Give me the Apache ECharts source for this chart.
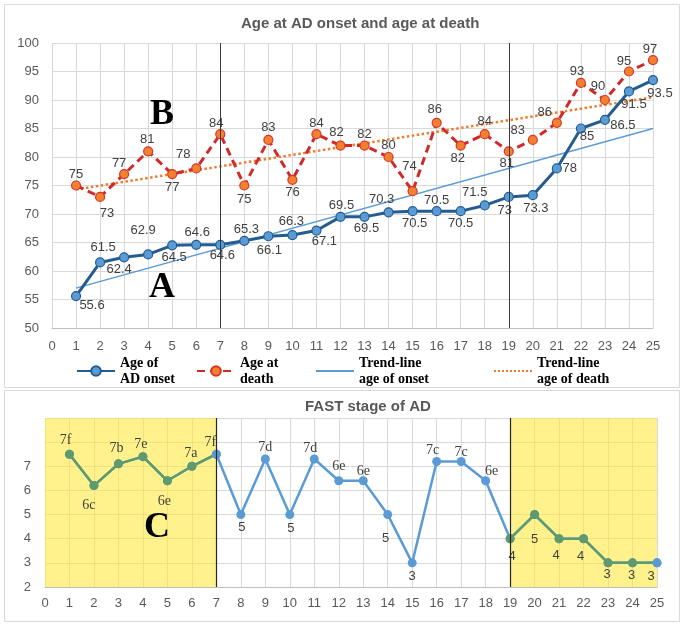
<!DOCTYPE html>
<html><head><meta charset="utf-8">
<script src="https://cdn.jsdelivr.net/npm/echarts@6/dist/echarts.min.js"></script>
<style>html,body{margin:0;padding:0;background:#fff}#c{width:684px;height:626px}</style>
</head><body><div id="c"></div>
<script>
// ---- data ----
const patients = [1,2,3,4,5,6,7,8,9,10,11,12,13,14,15,16,17,18,19,20,21,22,23,24,25];
const onsetAge = [55.6,61.5,62.4,62.9,64.5,64.6,64.6,65.3,66.1,66.3,67.1,69.5,69.5,70.3,70.5,70.5,70.5,71.5,73,73.3,78,85,86.5,91.5,93.5];
const deathAge = [75,73,77,81,77,78,84,75,83,76,84,82,82,80,74,86,82,84,81,83,86,93,90,95,97];
const trendX = [1,25];
const trendOnset = [57.0,85.0];
const trendDeath = [74.3,90.5];
const fastValue = [7.5,6.2,7.1,7.4,6.4,7.0,7.5,5,7.3,5,7.3,6.4,6.4,5,3,7.2,7.2,6.4,4,5,4,4,3,3,3];
const fastStage = ['7f','6c','7b','7e','6e','7a','7f','5','7d','5','7d','6e','6e','5','3','7c','7c','6e','4','5','4','4','3','3','3'];
const dividerPatients = [7,19];
const earlyRange = [0,7];
const lateRange = [19,25];
const seriesNames = ['Age of\nAD onset','Age at\ndeath','Trend-line\nage of onset','Trend-line\nage of death'];

// ---- label offsets (style) ----
const onsetOff = [[16,9],[3,-15],[-5,12],[-5,-24],[2,12],[1,-12],[2,11],[2,-11],[1,14],[-1,-14],[8,11],[1,-11],[2,12],[-7,-13],[2,12],[0,-11],[0,12],[-10,-13],[-4,14],[3,13],[13,0],[6,8],[18,5],[5,13],[7,13]];
const deathOff = [[0,-11],[7,17],[-5,-11],[-1,-12],[0,13],[-13,-14],[-4,-11],[0,14],[0,-12],[0,13],[0,-11],[-4,-13],[0,-11],[0,-12],[-3,-25],[-2,-13],[-3,13],[0,-13],[-2,12],[-15,-9],[-12,-10],[-4,-11],[-7,-14],[-5,-10],[-3,-11]];
const fastOff = [[-4,-14],[-5,20],[-2,-16],[-2,-12],[-3,21],[-1,-13],[-6,-12],[1,13],[0,-12],[1,14],[-4,-11],[0,-14],[0,-9],[-2,24],[0,14],[-4,-11],[0,-9],[6,-9],[2,18],[0,25],[-3,17],[-3,18],[-1,12],[-1,13],[-6,14]];

const axisLab = {color:'#595959', fontSize:13, fontFamily:'Liberation Sans'};
const gridLine = {show:true, lineStyle:{color:'#D9D9D9', width:1}};
const ptLabel = {show:true, position:'inside', color:'#404040', fontSize:13, fontFamily:'Liberation Sans'};

const chart = echarts.init(document.getElementById('c'));

function legendAt(left, name, noSymbol){
  const lg = {
    left: left, top: 355, itemWidth: 38, itemHeight: 12, padding: 0,
    data: [name], selectedMode: false,
    textStyle: {fontFamily:'Liberation Serif', fontWeight:'bold', fontSize:14, color:'#000', lineHeight:16}
  };
  if (noSymbol) lg.itemStyle = {opacity: 0};
  return lg;
}

const option = {
  animation: false,
  backgroundColor: '#fff',
  title: [
    {text:'Age at AD onset and age at death', left: 241, top: 16, padding: 0,
     textStyle:{color:'#595959', fontSize:15, fontWeight:'bold', fontFamily:'Liberation Sans'}},
    {text:'FAST stage of AD', left: 305, top: 399, padding: 0,
     textStyle:{color:'#595959', fontSize:15, fontWeight:'bold', fontFamily:'Liberation Sans'}}
  ],
  legend: [
    legendAt(76, seriesNames[0], false),
    legendAt(196, seriesNames[1], false),
    legendAt(315, seriesNames[2], true),
    legendAt(493, seriesNames[3], true)
  ],
  grid: [
    {left:52, right:31, top:43, height:285},
    {left:45, right:27, top:418, height:169}
  ],
  xAxis: [
    {type:'value', gridIndex:0, min:0, max:25, interval:1,
     axisLine:{show:true, lineStyle:{color:'#BFBFBF'}}, axisTick:{show:false},
     axisLabel:Object.assign({margin:12}, axisLab), splitLine:gridLine},
    {type:'value', gridIndex:1, min:0, max:25, interval:1,
     axisLine:{show:true, lineStyle:{color:'#BFBFBF'}}, axisTick:{show:false},
     axisLabel:Object.assign({margin:10}, axisLab), splitLine:gridLine}
  ],
  yAxis: [
    {type:'value', gridIndex:0, min:50, max:100, interval:5,
     axisLine:{show:false}, axisTick:{show:false},
     axisLabel:Object.assign({margin:13}, axisLab), splitLine:gridLine},
    {type:'value', gridIndex:1, min:2, max:9, interval:1,
     axisLine:{show:false}, axisTick:{show:false},
     axisLabel:Object.assign({margin:14, formatter:v => v > 7 ? '' : String(v)}, axisLab), splitLine:gridLine}
  ],
  series: [
    {name: seriesNames[2], type:'line', xAxisIndex:0, yAxisIndex:0, z:2,
     data: trendX.map((x,i)=>[x, trendOnset[i]]), symbol:'none',
     lineStyle:{color:'#5B9BD5', width:1.5}, itemStyle:{color:'#5B9BD5'},
     markLine:{silent:true, symbol:['none','none'], label:{show:false},
       lineStyle:{color:'#3A3A3A', width:1, type:'solid'},
       data: dividerPatients.map(p=>({xAxis:p}))}},
    {name: seriesNames[3], type:'line', xAxisIndex:0, yAxisIndex:0, z:2,
     data: trendX.map((x,i)=>[x, trendDeath[i]]), symbol:'none',
     lineStyle:{color:'#ED7D31', width:2.5, type:'dotted'}, itemStyle:{color:'#ED7D31'}},
    {name: seriesNames[0], type:'line', xAxisIndex:0, yAxisIndex:0, z:4,
     data: patients.map((p,i)=>({value:[p, onsetAge[i]], label:{offset:onsetOff[i]}})),
     symbol:'circle', symbolSize:9, showAllSymbol:true,
     lineStyle:{color:'#245C90', width:3},
     itemStyle:{color:'#5B9BD5', borderColor:'#245C90', borderWidth:1.2},
     label:Object.assign({formatter:p=>String(p.value[1])}, ptLabel)},
    {name: seriesNames[1], type:'line', xAxisIndex:0, yAxisIndex:0, z:4,
     data: patients.map((p,i)=>({value:[p, deathAge[i]], label:{offset:deathOff[i]}})),
     symbol:'circle', symbolSize:9, showAllSymbol:true,
     lineStyle:{color:'#CF2A2A', width:3, type:[8,5]},
     itemStyle:{color:'#F0812E', borderColor:'#D9342B', borderWidth:1.2},
     label:Object.assign({formatter:p=>String(p.value[1])}, ptLabel)},
    // bottom chart
    {type:'line', xAxisIndex:1, yAxisIndex:1, z:1, data:[], symbol:'none',
     markArea:{silent:true, itemStyle:{color:'rgba(255,232,56,0.58)'},
       data:[[{xAxis:earlyRange[0]},{xAxis:earlyRange[1]}],[{xAxis:lateRange[0]},{xAxis:lateRange[1]}]]},
     markLine:{silent:true, symbol:['none','none'], label:{show:false},
       lineStyle:{color:'#262626', width:1.2, type:'solid'},
       data: dividerPatients.map(p=>({xAxis:p}))}},
    {type:'line', xAxisIndex:1, yAxisIndex:1, z:3,
     data: patients.map((p,i)=>({value:[p, fastValue[i]],
       label:{offset:fastOff[i], fontFamily: /[a-z]/.test(fastStage[i]) ? 'Liberation Serif' : 'Liberation Sans',
              fontSize: /[a-z]/.test(fastStage[i]) ? 14 : 13}})),
     symbol:'circle', symbolSize:9, showAllSymbol:true,
     lineStyle:{color:'#5B9BD5', width:2.5}, itemStyle:{color:'#5B9BD5'},
     label:{show:true, position:'inside', color:'#404040', formatter:p=>fastStage[p.dataIndex]}},
    {type:'line', xAxisIndex:1, yAxisIndex:1, z:4,
     data: patients.map((p,i)=>{
       const inGreen = (p>=earlyRange[0] && p<=earlyRange[1]) || (p>=lateRange[0] && p<=lateRange[1]);
       if(!inGreen) return [p, null];
       const edge = (p===earlyRange[1] || p===lateRange[1]);
       return edge ? {value:[p, fastValue[i]], itemStyle:{color:'#5B9BD5'}} : [p, fastValue[i]];
     }),
     connectNulls:false, symbol:'circle', symbolSize:9, showAllSymbol:true,
     lineStyle:{color:'#5E9A6C', width:2.5}, itemStyle:{color:'#5E9A6C'}, label:{show:false}}
  ],
  graphic: [
    {type:'rect', silent:true, z:0, shape:{x:4.5, y:4.5, width:675, height:383},
     style:{fill:'none', stroke:'#D9D9D9', lineWidth:1}},
    {type:'rect', silent:true, z:0, shape:{x:4.5, y:390.5, width:675, height:231},
     style:{fill:'none', stroke:'#D9D9D9', lineWidth:1}},
    {type:'text', silent:true, z:10, x:162, y:115,
     style:{text:'B', fill:'#000', font:'bold 36px "Liberation Serif"', textAlign:'center', textVerticalAlign:'middle'}},
    {type:'text', silent:true, z:10, x:162, y:288,
     style:{text:'A', fill:'#000', font:'bold 36px "Liberation Serif"', textAlign:'center', textVerticalAlign:'middle'}},
    {type:'text', silent:true, z:10, x:157, y:528,
     style:{text:'C', fill:'#000', font:'bold 36px "Liberation Serif"', textAlign:'center', textVerticalAlign:'middle'}}
  ]
};
chart.setOption(option);
</script>
</body></html>
